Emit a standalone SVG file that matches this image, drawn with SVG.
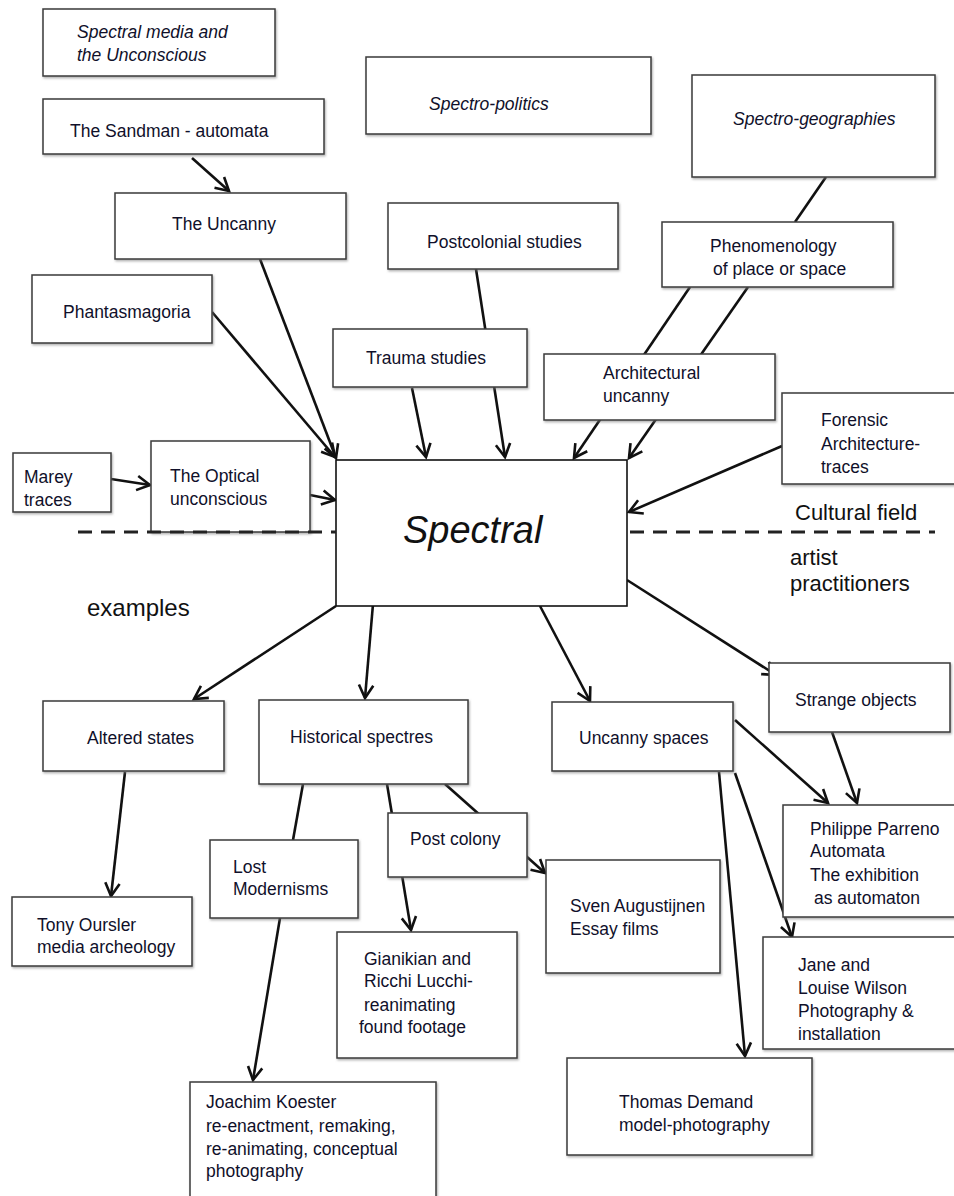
<svg xmlns="http://www.w3.org/2000/svg" width="954" height="1196" viewBox="0 0 954 1196">
<style>
.box{fill:#fff;stroke:#3a3a3a;stroke-width:1.5;filter:url(#sh)}
.t{font-family:"Liberation Sans",Arial,sans-serif;font-size:17.5px;fill:#10102a}
.i{font-style:italic}
.big{font-family:"Liberation Sans",Arial,sans-serif;font-size:38px;font-style:italic;fill:#111}
.lab{font-family:"Liberation Sans",Arial,sans-serif;font-size:22px;fill:#111}
.c line{stroke:#111;stroke-width:2.6;fill:none}
.c line.a{marker-end:url(#arr)}
.dash{stroke:#222;stroke-width:3;stroke-dasharray:14 9}
</style>
<defs>
<filter id="sh" x="-5%" y="-5%" width="110%" height="115%">
<feDropShadow dx="1" dy="1.5" stdDeviation="0.8" flood-color="#777" flood-opacity="0.6"/>
</filter>
<marker id="arr" markerUnits="userSpaceOnUse" markerWidth="18" markerHeight="18" viewBox="0 0 18 18" refX="15" refY="9" orient="auto">
<path d="M2,1.8 L15,9 L2,16.2" fill="none" stroke="#111" stroke-width="2.6"/>
</marker>
</defs>
<rect width="954" height="1196" fill="#fff"/>

<g id="connectors" class="c">
<line class="a" x1="192" y1="158" x2="229" y2="191"/>
<line class="a" x1="260" y1="259" x2="336" y2="458"/>
<line class="a" x1="212" y1="312" x2="335" y2="457"/>
<line class="a" x1="412" y1="388" x2="426" y2="457"/>
<line class="a" x1="476" y1="269" x2="505" y2="457"/>
<line x1="826" y1="177" x2="795" y2="222"/>
<line class="a" x1="690" y1="287" x2="574" y2="458"/>
<line class="a" x1="748" y1="287" x2="629" y2="458"/>
<line class="a" x1="782" y1="446" x2="629" y2="512"/>
<line class="a" x1="111" y1="479" x2="150" y2="485"/>
<line class="a" x1="310" y1="495" x2="335" y2="500"/>
<line class="a" x1="336" y1="606" x2="194" y2="699"/>
<line class="a" x1="373" y1="604" x2="365" y2="698"/>
<line class="a" x1="540" y1="606" x2="590" y2="701"/>
<line class="a" x1="627" y1="580" x2="776" y2="675"/>
<line class="a" x1="125" y1="772" x2="111" y2="896"/>
<line x1="303" y1="784" x2="293" y2="840"/>
<line class="a" x1="387" y1="784" x2="411" y2="930"/>
<line class="a" x1="445" y1="784" x2="545" y2="873"/>
<line class="a" x1="280" y1="918" x2="253" y2="1080"/>
<line class="a" x1="735" y1="720" x2="828" y2="803"/>
<line class="a" x1="832" y1="732" x2="857" y2="803"/>
<line class="a" x1="735" y1="773" x2="792" y2="937"/>
<line class="a" x1="719" y1="772" x2="745" y2="1056"/>
</g>

<g id="n-spectral-media"><rect class="box" x="43" y="9" width="232" height="67"/>
<text class="t i" x="77" y="38">Spectral media and</text><text class="t i" x="77" y="61">the Unconscious</text></g>
<g id="n-sandman"><rect class="box" x="43" y="99" width="281" height="55"/>
<text class="t" x="70" y="137">The Sandman - automata</text></g>
<g id="n-uncanny"><rect class="box" x="115" y="193" width="231" height="66"/>
<text class="t" x="172" y="230">The Uncanny</text></g>
<g id="n-spectro-politics"><rect class="box" x="366" y="57" width="285" height="77"/>
<text class="t i" x="429" y="110">Spectro-politics</text></g>
<g id="n-spectro-geographies"><rect class="box" x="692" y="75" width="243" height="102"/>
<text class="t i" x="733" y="125">Spectro-geographies</text></g>
<g id="n-postcolonial"><rect class="box" x="388" y="203" width="230" height="66"/>
<text class="t" x="427" y="248">Postcolonial studies</text></g>
<g id="n-phenomenology"><rect class="box" x="662" y="222" width="231" height="65"/>
<text class="t" x="710" y="252">Phenomenology</text><text class="t" x="713" y="275">of place or space</text></g>
<g id="n-phantasmagoria"><rect class="box" x="32" y="275" width="180" height="68"/>
<text class="t" x="63" y="318">Phantasmagoria</text></g>
<g id="n-trauma"><rect class="box" x="333" y="329" width="194" height="58"/>
<text class="t" x="366" y="364">Trauma studies</text></g>
<g id="n-architectural"><rect class="box" x="544" y="354" width="231" height="66"/>
<text class="t" x="603" y="379">Architectural</text><text class="t" x="603" y="402">uncanny</text></g>
<g id="n-forensic"><rect class="box" x="782" y="393" width="180" height="91"/>
<text class="t" x="821" y="426">Forensic</text><text class="t" x="821" y="450">Architecture-</text><text class="t" x="821" y="473">traces</text></g>
<g id="n-marey"><rect class="box" x="13" y="453" width="98" height="59"/>
<text class="t" x="24" y="483">Marey</text><text class="t" x="24" y="506">traces</text></g>
<g id="n-optical"><rect class="box" x="151" y="441" width="159" height="91"/>
<text class="t" x="170" y="482">The Optical</text><text class="t" x="170" y="505">unconscious</text></g>
<g id="n-spectral"><rect x="336" y="460" width="291" height="146" fill="#fff" stroke="#111" stroke-width="1.6"/>
<text class="big" x="403" y="543">Spectral</text></g>

<g id="divider">
<line class="dash" x1="78" y1="532" x2="336" y2="532"/>
<line class="dash" x1="630" y1="532" x2="935" y2="532"/>
<text class="lab" x="795" y="520">Cultural field</text>
<text class="lab" x="790" y="565">artist</text>
<text class="lab" x="790" y="591">practitioners</text>
<text class="lab" x="87" y="616" style="font-size:24px">examples</text>
</g>

<g id="n-altered"><rect class="box" x="43" y="701" width="181" height="70"/>
<text class="t" x="87" y="744">Altered states</text></g>
<g id="n-historical"><rect class="box" x="259" y="700" width="209" height="84"/>
<text class="t" x="290" y="743">Historical spectres</text></g>
<g id="n-uncanny-spaces"><rect class="box" x="552" y="702" width="181" height="69"/>
<text class="t" x="579" y="744">Uncanny spaces</text></g>
<g id="n-strange"><rect class="box" x="769" y="663" width="181" height="69"/>
<text class="t" x="795" y="706">Strange objects</text></g>
<g id="n-lost"><rect class="box" x="210" y="840" width="148" height="78"/>
<text class="t" x="233" y="873">Lost</text><text class="t" x="233" y="895">Modernisms</text></g>
<g id="n-postcolony"><rect class="box" x="388" y="813" width="139" height="64"/>
<text class="t" x="410" y="845">Post colony</text></g>
<g id="n-philippe"><rect class="box" x="783" y="805" width="180" height="112"/>
<text class="t" x="810" y="835">Philippe Parreno</text><text class="t" x="810" y="857">Automata</text><text class="t" x="810" y="881">The exhibition</text><text class="t" x="814" y="904">as automaton</text></g>
<g id="n-tony"><rect class="box" x="12" y="897" width="180" height="69"/>
<text class="t" x="37" y="931">Tony Oursler</text><text class="t" x="37" y="953">media archeology</text></g>
<g id="n-sven"><rect class="box" x="546" y="860" width="174" height="113"/>
<text class="t" x="570" y="912">Sven Augustijnen</text><text class="t" x="570" y="935">Essay films</text></g>
<g id="n-gianikian"><rect class="box" x="337" y="932" width="180" height="126"/>
<text class="t" x="364" y="965">Gianikian and</text><text class="t" x="364" y="987">Ricchi Lucchi-</text><text class="t" x="364" y="1011">reanimating</text><text class="t" x="359" y="1033">found footage</text></g>
<g id="n-jane"><rect class="box" x="763" y="937" width="200" height="112"/>
<text class="t" x="798" y="971">Jane and</text><text class="t" x="798" y="994">Louise Wilson</text><text class="t" x="798" y="1017">Photography &amp;</text><text class="t" x="798" y="1040">installation</text></g>
<g id="n-thomas"><rect class="box" x="567" y="1058" width="245" height="97"/>
<text class="t" x="619" y="1108">Thomas Demand</text><text class="t" x="619" y="1131">model-photography</text></g>
<g id="n-joachim"><rect class="box" x="190" y="1082" width="246" height="130"/>
<text class="t" x="206" y="1108">Joachim Koester</text><text class="t" x="206" y="1132">re-enactment, remaking,</text><text class="t" x="206" y="1155">re-animating, conceptual</text><text class="t" x="206" y="1177">photography</text></g>
</svg>
